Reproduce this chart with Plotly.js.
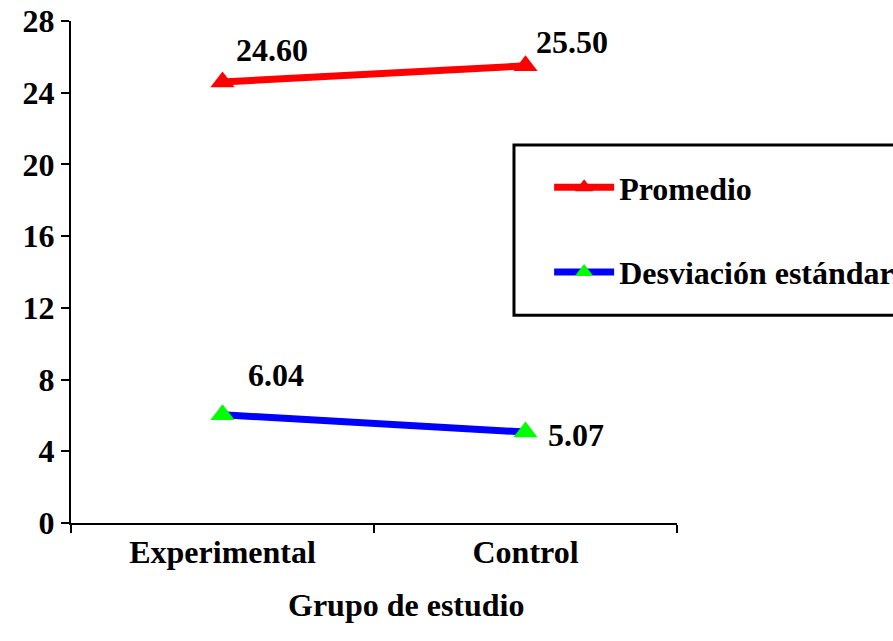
<!DOCTYPE html>
<html>
<head>
<meta charset="utf-8">
<script src="https://cdn.plot.ly/plotly-3.0.1.min.js"></script>
<style>html,body{margin:0;padding:0;background:#fff;overflow:hidden;}#chart{width:893px;height:641px;}</style>
</head>
<body>
<div id="chart"></div>
<script>
const categories = ["Experimental", "Control"];
const promedio = [24.60, 25.50];
const desviacion = [6.04, 5.07];
const seriesNames = ["Promedio", "Desviación estándar"];
const yTicks = [0, 4, 8, 12, 16, 20, 24, 28];
const xTitle = "Grupo de estudio";

function F() { return {family: "Liberation Serif", size: 32, weight: "bold", color: "#000000"}; }

const traces = [
  {x: categories, y: promedio, name: seriesNames[0], type: "scatter", mode: "lines+markers",
   line: {color: "#ff0000", width: 7}, marker: {symbol: "triangle-up", size: 21, color: "#ff0000"},
   legendgroup: "a", cliponaxis: false},
  {x: categories, y: desviacion, name: seriesNames[1], type: "scatter", mode: "lines+markers",
   line: {color: "#0000ff", width: 7}, marker: {symbol: "triangle-up", size: 21, color: "#00ff00"},
   legendgroup: "b", cliponaxis: false}
];

const shifts = [[[49, 32], [46, 24]], [[53, 40], [50, -3]]];
const annotations = [];
[promedio, desviacion].forEach((vals, s) => {
  vals.forEach((v, i) => {
    annotations.push({x: categories[i], y: v, text: v.toFixed(2), showarrow: false,
      xshift: shifts[s][i][0], yshift: shifts[s][i][1], font: F()});
  });
});
annotations.push({xref: "paper", yref: "paper", x: 0.553, y: 0, yshift: -102, text: xTitle,
  showarrow: false, font: F()});

const layout = {
  width: 893, height: 641,
  margin: {l: 71, r: 216, t: 21, b: 118, autoexpand: false},
  paper_bgcolor: "#fff", plot_bgcolor: "#fff",
  showlegend: true,
  legend: {x: 0.789, y: 0.723, xanchor: "left", yanchor: "top", bgcolor: "rgba(0,0,0,0)",
    borderwidth: 0, font: F(), tracegroupgap: 40, traceorder: "grouped", itemwidth: 60},
  shapes: [{type: "rect", xref: "paper", yref: "paper", x0: 0.731, x1: 1.45, y0: 0.414, y1: 0.753,
    line: {color: "#000", width: 3}, fillcolor: "rgba(0,0,0,0)", layer: "below"}],
  xaxis: {type: "category", showline: true, linecolor: "#000", linewidth: 2, ticks: "outside",
    ticklen: 8, tickwidth: 2, tickcolor: "#000", tickson: "boundaries", showgrid: false,
    zeroline: false, tickfont: F(), range: [-0.5, 1.5], automargin: false},
  yaxis: {range: [0, 28], tickvals: yTicks, showline: true, linecolor: "#000", linewidth: 2,
    ticks: "outside", ticklen: 8, tickwidth: 2, tickcolor: "#000", showgrid: false,
    zeroline: false, tickfont: F(), automargin: false},
  annotations: annotations
};

Plotly.newPlot("chart", traces, layout, {displayModeBar: false, staticPlot: true});
</script>
</body>
</html>
